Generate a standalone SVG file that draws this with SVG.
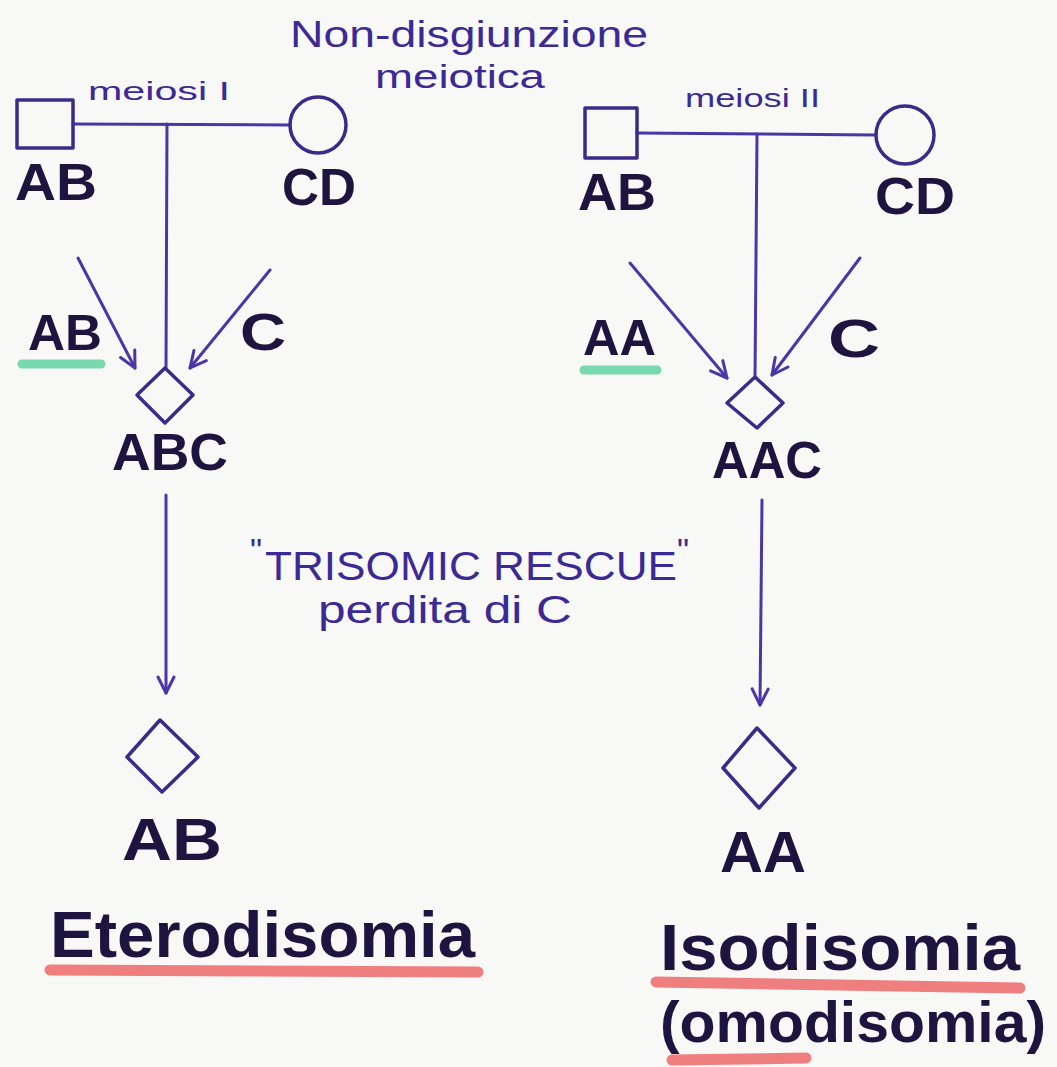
<svg xmlns="http://www.w3.org/2000/svg" width="1057" height="1067" viewBox="0 0 1057 1067">
<defs>
<style>
.bg{fill:#f8f8f6}
.ln{stroke:#4a36a6;stroke-width:3;fill:none;stroke-linecap:round;stroke-linejoin:round}
.sym{stroke:#3a2a8a;stroke-width:3.5;fill:none;stroke-linejoin:round}
.big{font-family:"Liberation Sans","DejaVu Sans",sans-serif;font-weight:bold;fill:#1e1440}
.hand{font-family:"Liberation Sans","DejaVu Sans",sans-serif;fill:#3b2a96}
.green{stroke:#63d3a4;stroke-width:9;stroke-linecap:round;opacity:0.85}
.red{stroke:#ee6a6a;stroke-width:11;stroke-linecap:round;opacity:0.85}
</style>
<marker id="ah" viewBox="0 0 20 20" refX="18" refY="10" markerWidth="20" markerHeight="20" markerUnits="userSpaceOnUse" orient="auto">
<path d="M2,2 L18,10 L2,18" fill="none" stroke="#4a36a6" stroke-width="3" stroke-linecap="round" stroke-linejoin="round"/>
</marker>
</defs>
<rect class="bg" x="0" y="0" width="1057" height="1067"/>

<g id="title">
<text class="hand" x="290" y="47" font-size="36" textLength="358" lengthAdjust="spacingAndGlyphs">Non-disgiunzione</text>
<text class="hand" x="375" y="88" font-size="34" textLength="170" lengthAdjust="spacingAndGlyphs">meiotica</text>
</g>

<g id="connectors">
<line class="ln" x1="73" y1="124" x2="290" y2="125"/>
<line class="ln" x1="167" y1="124" x2="166" y2="368"/>
<line class="ln" x1="78" y1="258" x2="135" y2="368" marker-end="url(#ah)"/>
<line class="ln" x1="270" y1="270" x2="190" y2="368" marker-end="url(#ah)"/>
<line class="ln" x1="166" y1="495" x2="166" y2="693" marker-end="url(#ah)"/>
<line class="ln" x1="637" y1="133" x2="875" y2="135"/>
<line class="ln" x1="757" y1="134" x2="755" y2="378"/>
<line class="ln" x1="630" y1="263" x2="727" y2="378" marker-end="url(#ah)"/>
<line class="ln" x1="860" y1="258" x2="772" y2="375" marker-end="url(#ah)"/>
<line class="ln" x1="762" y1="500" x2="760" y2="705" marker-end="url(#ah)"/>
</g>

<g id="left-meiosis-label">
<text class="hand" x="88" y="100" font-size="25" textLength="142" lengthAdjust="spacingAndGlyphs">meiosi I</text>
</g>
<g id="left-father">
<rect class="sym" x="17" y="100" width="56" height="48"/>
<text class="big" x="15" y="200" font-size="52" textLength="82" lengthAdjust="spacingAndGlyphs">AB</text>
</g>
<g id="left-mother">
<circle class="sym" cx="318" cy="125" r="28"/>
<text class="big" x="282" y="205" font-size="52" textLength="74" lengthAdjust="spacingAndGlyphs">CD</text>
</g>
<g id="left-gamete-AB">
<text class="big" x="28" y="350" font-size="50" textLength="74" lengthAdjust="spacingAndGlyphs">AB</text>
<line class="green" x1="22" y1="364" x2="101" y2="364"/>
</g>
<g id="left-gamete-C">
<text class="big" x="240" y="350" font-size="52" textLength="46" lengthAdjust="spacingAndGlyphs">C</text>
</g>
<g id="left-zygote">
<path class="sym" d="M165,368 L193,395 L165,423 L137,395 Z"/>
<text class="big" x="112" y="470" font-size="52" textLength="116" lengthAdjust="spacingAndGlyphs">ABC</text>
</g>
<g id="left-result">
<path class="sym" d="M160,720 L198,757 L162,792 L127,757 Z"/>
<text class="big" x="122" y="860" font-size="60" textLength="100" lengthAdjust="spacingAndGlyphs">AB</text>
</g>
<g id="left-outcome">
<text class="big" x="50" y="957" font-size="64" textLength="425" lengthAdjust="spacingAndGlyphs">Eterodisomia</text>
<line class="red" x1="50" y1="970" x2="478" y2="972"/>
</g>

<g id="rescue-label">
<text class="hand" x="250" y="562" font-size="34">"</text>
<text class="hand" x="265" y="580" font-size="40" textLength="412" lengthAdjust="spacingAndGlyphs">TRISOMIC RESCUE</text>
<text class="hand" x="677" y="562" font-size="34">"</text>
<text class="hand" x="318" y="623" font-size="38" textLength="254" lengthAdjust="spacingAndGlyphs">perdita di C</text>
</g>

<g id="right-meiosis-label">
<text class="hand" x="685" y="107" font-size="25" textLength="135" lengthAdjust="spacingAndGlyphs">meiosi II</text>
</g>
<g id="right-father">
<rect class="sym" x="585" y="108" width="52" height="50"/>
<text class="big" x="578" y="210" font-size="52" textLength="78" lengthAdjust="spacingAndGlyphs">AB</text>
</g>
<g id="right-mother">
<circle class="sym" cx="905" cy="135" r="29"/>
<text class="big" x="875" y="214" font-size="52" textLength="80" lengthAdjust="spacingAndGlyphs">CD</text>
</g>
<g id="right-gamete-AA">
<text class="big" x="583" y="355" font-size="50" textLength="73" lengthAdjust="spacingAndGlyphs">AA</text>
<line class="green" x1="584" y1="370" x2="657" y2="370"/>
</g>
<g id="right-gamete-C">
<text class="big" x="828" y="357" font-size="54" textLength="52" lengthAdjust="spacingAndGlyphs">C</text>
</g>
<g id="right-zygote">
<path class="sym" d="M755,377 L783,403 L757,428 L727,403 Z"/>
<text class="big" x="712" y="478" font-size="52" textLength="110" lengthAdjust="spacingAndGlyphs">AAC</text>
</g>
<g id="right-result">
<path class="sym" d="M757,728 L795,768 L759,808 L723,768 Z"/>
<text class="big" x="720" y="872" font-size="58" textLength="86" lengthAdjust="spacingAndGlyphs">AA</text>
</g>
<g id="right-outcome">
<text class="big" x="660" y="970" font-size="64" textLength="360" lengthAdjust="spacingAndGlyphs">Isodisomia</text>
<line class="red" x1="656" y1="982" x2="1020" y2="988"/>
<text class="big" x="660" y="1042" font-size="58" textLength="386" lengthAdjust="spacingAndGlyphs">(omodisomia)</text>
<line class="red" x1="672" y1="1060" x2="806" y2="1058"/>
</g>
</svg>
